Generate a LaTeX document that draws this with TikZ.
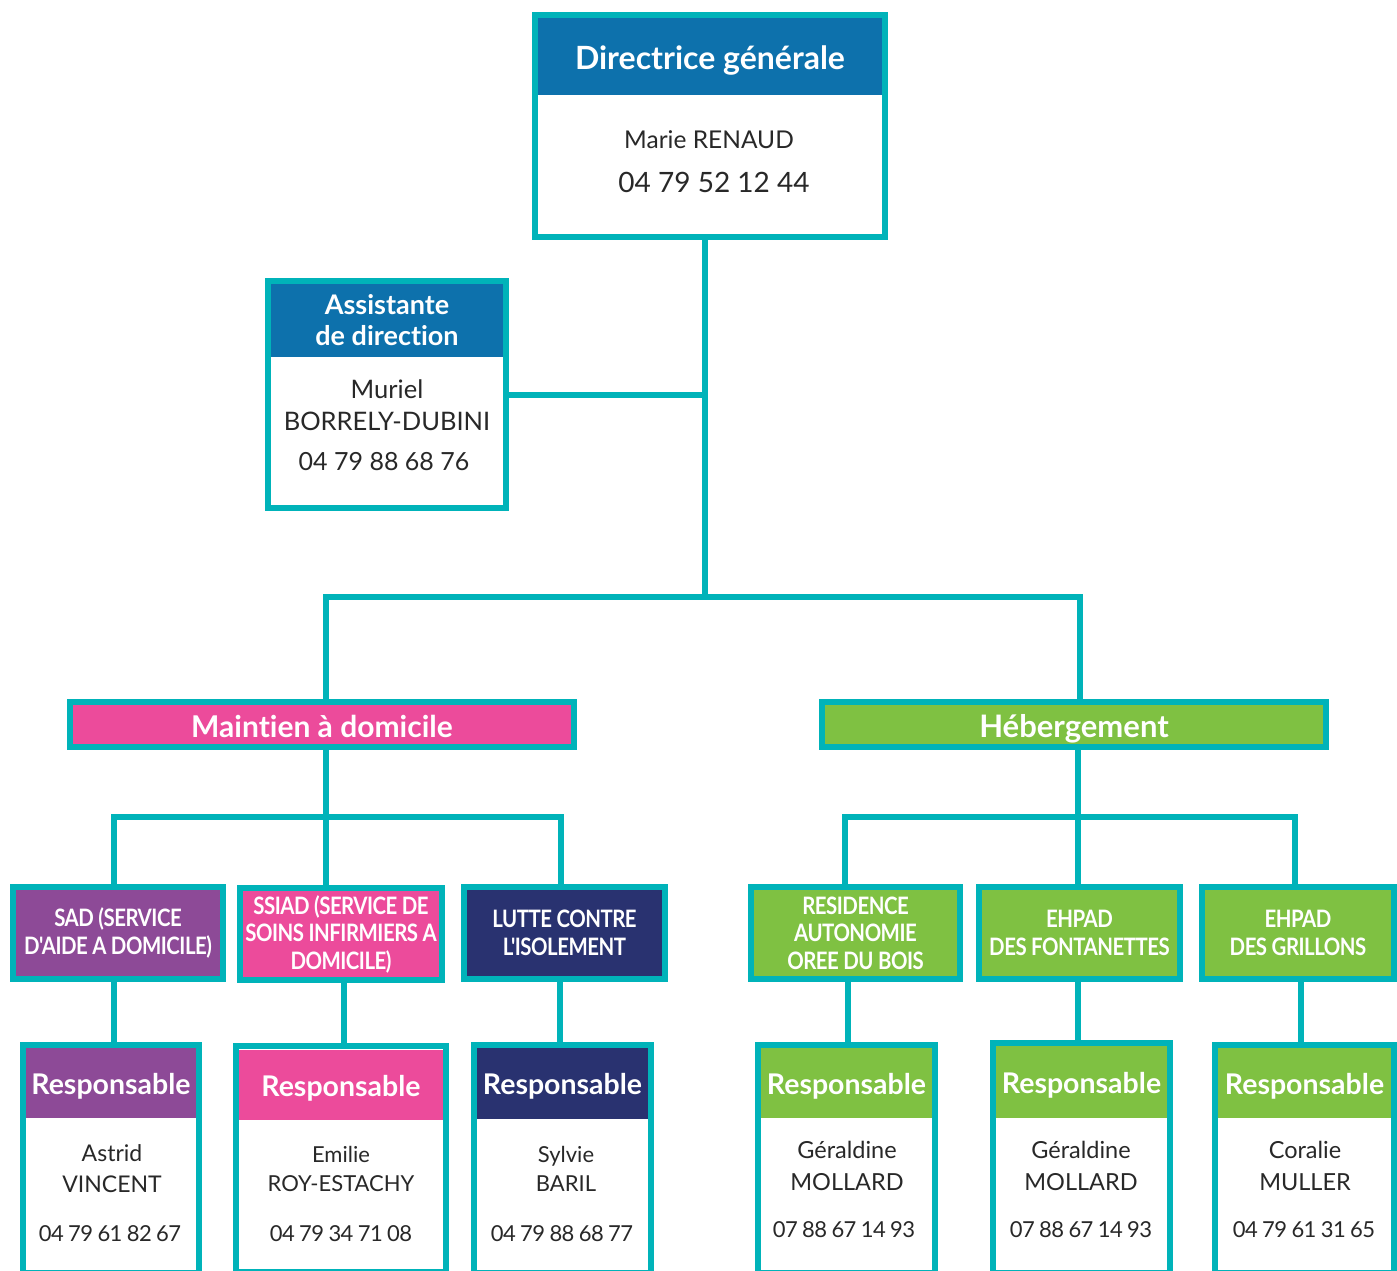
\documentclass[tikz,border=0pt]{standalone}
\usepackage{fontspec}
\setmainfont{Lato}[Ligatures=NoCommon]
\newfontfamily\condfont{Lato}[FakeStretch=0.85,LetterSpace=-2,Ligatures=NoCommon]
\newfontfamily\phfont{Lato}[LetterSpace=-3,WordSpace=0.9]
\usetikzlibrary{backgrounds}
\definecolor{orgteal}{RGB}{0,179,185}
\definecolor{dirblue}{RGB}{13,113,172}
\definecolor{orgpink}{RGB}{236,75,155}
\definecolor{orggreen}{RGB}{127,193,66}
\definecolor{orgpurple}{RGB}{141,74,151}
\definecolor{orgnavy}{RGB}{41,50,112}
\definecolor{txtdark}{RGB}{40,40,40}
\tikzset{
  card/.style={draw=orgteal, line width=6pt, fill=white, inner sep=0pt, outer sep=0pt},
  hdr/.style={inner sep=0pt, outer sep=0pt, text=white, font=\bfseries\fontsize{28.5}{32}\selectfont, align=center},
  resp/.style={hdr, text height=22.5pt, text depth=0pt},
  grp/.style={draw=orgteal, line width=6pt, inner sep=0pt, outer sep=0pt, text=white, minimum width=504pt, minimum height=45pt, text height=26pt, text depth=0pt},
  svc/.style={draw=orgteal, line width=6pt, inner sep=0pt, outer sep=0pt, text=white, font=\condfont\bfseries\fontsize{24}{27.5}\selectfont, align=center, minimum height=92pt},
  nm/.style={inner sep=0pt, text=txtdark, font=\fontsize{23}{31}\selectfont, align=center},
  ph/.style={inner sep=0pt, text=txtdark, font=\phfont\fontsize{22}{26}\selectfont},
  conn/.style={draw=orgteal, line width=6pt, line join=miter}
}
\begin{document}
\begin{tikzpicture}[x=1pt,y=-1pt]
\useasboundingbox (0,0) rectangle (1397,1270);
% ---- coordinates of junctions
\coordinate (j1) at (705,597);
\coordinate (jm) at (326,597);
\coordinate (jh) at (1080,597);
\coordinate (km) at (326,817);
\coordinate (kml) at (114,817);
\coordinate (kmr) at (561,817);
\coordinate (kh) at (1078,817);
\coordinate (khl) at (845,817);
\coordinate (khr) at (1295,817);

% ---- Directrice
\node[card, minimum width=350pt, minimum height=222pt] (dg) at (710,126) {};
\node[hdr, fill=dirblue, minimum width=344pt, minimum height=77pt, font=\bfseries\fontsize{32}{36}\selectfont, text height=25pt, text depth=0pt] (dgh) at (710,56.5) {Directrice générale};
\node[nm, font=\fontsize{24.5}{30}\selectfont] (dgn) at (709,140) {Marie RENAUD};
\node[inner sep=0pt, text=txtdark, font=\fontsize{28}{32}\selectfont] (dgp) at (714,182) {04 79 52 12 44};

% ---- Assistante
\node[card, minimum width=238pt, minimum height=227pt] (asst) at (387,394.5) {};
\node[hdr, fill=dirblue, minimum width=232pt, minimum height=73pt, font=\bfseries\fontsize{27}{31}\selectfont] (asth) at (387,320.5) {Assistante\\de direction};
\node[nm, font=\fontsize{25.5}{32}\selectfont] (astn) at (387,405) {Muriel\\BORRELY-DUBINI};
\node[inner sep=0pt, text=txtdark, font=\fontsize{25}{30}\selectfont] (astp) at (384,462) {04 79 88 68 76};

% ---- groups
\node[grp, fill=orgpink, font=\bfseries\fontsize{30}{34}\selectfont] (mad) at (322,724.5) {Maintien à domicile};
\node[grp, fill=orggreen, font=\bfseries\fontsize{31}{34}\selectfont] (heb) at (1074,724.5) {Hébergement};

% ---- services
\node[svc, fill=orgpurple, minimum width=210pt] (sad) at (118,933) {SAD (SERVICE\\D'AIDE A DOMICILE)};
\node[svc, fill=orgpink, minimum width=202pt] (ssiad) at (341,934) {SSIAD (SERVICE DE\\SOINS INFIRMIERS A\\DOMICILE)};
\node[svc, fill=orgnavy, minimum width=201pt] (lutte) at (564.5,933) {LUTTE CONTRE\\L'ISOLEMENT};
\node[svc, fill=orggreen, minimum width=209pt] (res) at (855.5,933) {RESIDENCE\\AUTONOMIE\\OREE DU BOIS};
\node[svc, fill=orggreen, minimum width=201pt] (fon) at (1079.5,933) {EHPAD\\DES FONTANETTES};
\node[svc, fill=orggreen, minimum width=192pt] (gri) at (1298,933) {EHPAD\\DES GRILLONS};

% ---- responsables
\node[card, minimum width=176pt, minimum height=228pt] (r1) at (111,1159) {};
\node[resp, fill=orgpurple, minimum width=170pt, minimum height=70pt] (r1h) at (111,1083) {Responsable};
\node[nm] (r1n) at (112,1168.5) {Astrid\\VINCENT};
\node[ph] (r1p) at (110,1234) {04 79 61 82 67};

\node[card, minimum width=210pt, minimum height=226pt] (r2) at (341,1159) {};
\node[resp, fill=orgpink, minimum width=204pt, minimum height=70pt] (r2h) at (341,1085) {Responsable};
\node[nm, font=\fontsize{22}{29}\selectfont] (r2n) at (341,1168.5) {Emilie\\ROY-ESTACHY};
\node[ph] (r2p) at (341,1234) {04 79 34 71 08};

\node[card, minimum width=177pt, minimum height=228pt] (r3) at (562.5,1159) {};
\node[resp, fill=orgnavy, minimum width=171pt, minimum height=71pt] (r3h) at (562.5,1083.5) {Responsable};
\node[nm, font=\fontsize{22}{29}\selectfont] (r3n) at (566,1168.5) {Sylvie\\BARIL};
\node[ph] (r3p) at (562,1234) {04 79 88 68 77};

\node[card, minimum width=177pt, minimum height=228pt] (r4) at (846.5,1159) {};
\node[resp, fill=orggreen, minimum width=171pt, minimum height=70pt] (r4h) at (846.5,1083) {Responsable};
\node[nm, font=\fontsize{23.5}{32}\selectfont] (r4n) at (847,1166) {Géraldine\\MOLLARD};
\node[ph] (r4p) at (844,1230) {07 88 67 14 93};

\node[card, minimum width=177pt, minimum height=230pt] (r5) at (1081.5,1158) {};
\node[resp, fill=orggreen, minimum width=171pt, minimum height=72pt] (r5h) at (1081.5,1082) {Responsable};
\node[nm, font=\fontsize{23.5}{32}\selectfont] (r5n) at (1081,1166) {Géraldine\\MOLLARD};
\node[ph] (r5p) at (1081,1230) {07 88 67 14 93};

\node[card, minimum width=179pt, minimum height=228pt] (r6) at (1304.5,1159) {};
\node[resp, fill=orggreen, minimum width=173pt, minimum height=70pt] (r6h) at (1304.5,1083) {Responsable};
\node[nm, font=\fontsize{23.5}{32}\selectfont] (r6n) at (1305,1166) {Coralie\\MULLER};
\node[ph] (r6p) at (1304,1230) {04 79 61 31 65};

% ---- connectors
\begin{pgfonlayer}{background}
\draw[conn] (dg.south -| j1) -- (j1);
\draw[conn] (asst.east) -- (asst.east -| j1);
\draw[conn] (jm |- mad.north) -- (jm) -- (jh) -- (jh |- heb.north);
\draw[conn] (mad.south -| km) -- (km);
\draw[conn] (kml |- sad.north) -- (kml) -- (kmr) -- (kmr |- lutte.north);
\draw[conn] (km) -- (km |- ssiad.north);
\draw[conn] (heb.south -| kh) -- (kh);
\draw[conn] (khl |- res.north) -- (khl) -- (khr) -- (khr |- gri.north);
\draw[conn] (kh) -- (kh |- fon.north);
\draw[conn] ([xshift=-4pt]sad.south) -- ([xshift=-4pt]sad.south |- r1.north);
\draw[conn] ([xshift=3pt]ssiad.south) -- ([xshift=3pt]ssiad.south |- r2.north);
\draw[conn] ([xshift=-4.5pt]lutte.south) -- ([xshift=-4.5pt]lutte.south |- r3.north);
\draw[conn] ([xshift=-7.5pt]res.south) -- ([xshift=-7.5pt]res.south |- r4.north);
\draw[conn] ([xshift=-1.5pt]fon.south) -- ([xshift=-1.5pt]fon.south |- r5.north);
\draw[conn] ([xshift=3pt]gri.south) -- ([xshift=3pt]gri.south |- r6.north);
\end{pgfonlayer}
\end{tikzpicture}
\end{document}
